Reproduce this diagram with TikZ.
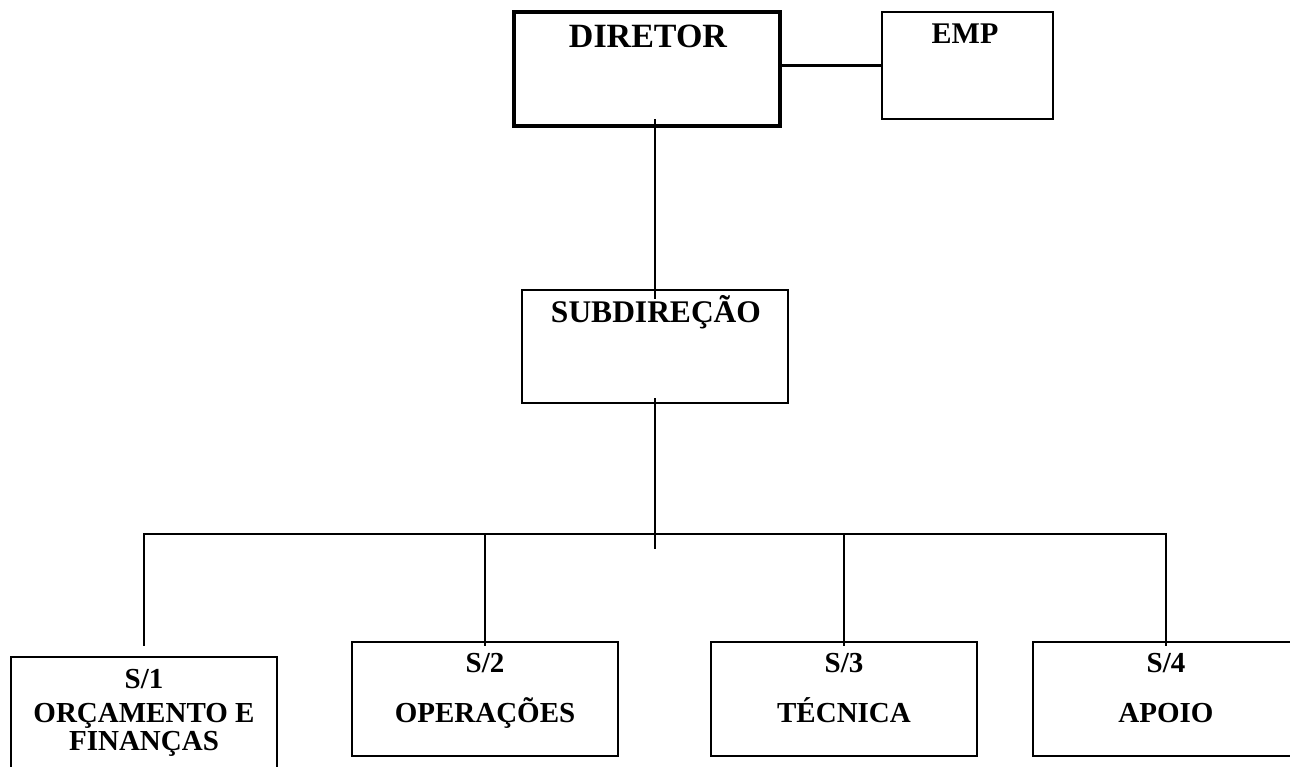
\documentclass[tikz,border=0pt]{standalone}
\usepackage{fontspec}
\setmainfont{Liberation Serif}
\begin{document}
\begin{tikzpicture}[x=1pt,y=-1pt,
        box/.style={draw, line width=2.2pt, minimum width=266pt, inner sep=0pt},
        txt/.style={anchor=base, inner sep=0pt, font=\bfseries\fontsize{29}{29}\selectfont},
        link/.style={line width=2.2pt}]
        % frame
            \useasboundingbox (0,0) rectangle (1290,767);
            \clip (0,0) rectangle (1290,767);
        % boxes
            \node[box, line width=4.2pt, minimum height=114pt] (dir) at (647,69) {};
            \node[box, minimum width=171pt, minimum height=107pt] (emp) at (967.5,65.5) {};
            \node[box, minimum height=113pt] (sub) at (655,346.5) {};
            \node[box, minimum height=130pt] (s1) at (144,722) {};
            \foreach \n/\x in {s2/485,s3/844,s4/1166}{
                \node[box, minimum height=114pt] (\n) at (\x,699) {};
            }
        % texts
            \node[txt, font=\bfseries\fontsize{34}{34}\selectfont] (dirtxt) at (648,48) {DIRETOR};
            \node[txt, font=\bfseries\fontsize{30}{30}\selectfont] (emptxt) at (965,44) {EMP};
            \node[txt, font=\bfseries\fontsize{31.5}{31.5}\selectfont] (subtxt) at (656,323) {SUBDIREÇÃO};
            \node[txt] (s1top) at (144,688) {S/1};
            \node[txt] (s1mid) at (144,722) {ORÇAMENTO E};
            \node[txt] (s1bot) at (144,750) {FINANÇAS};
            \foreach \n/\x/\k/\t in {s2/485/2/OPERAÇÕES,s3/844/3/TÉCNICA,s4/1166/4/APOIO}{
                \node[txt] (\n top) at (\x,672) {S/\k};
                \node[txt] (\n bot) at (\x,722) {\t};
            }
        % links
            \coordinate (bar) at (655,534);
            \coordinate (hub) at (655,549);
            \draw[link] (dir.east |- emp.west) -- (emp.west);
            \draw[link] ([xshift=8pt,yshift=9pt]dir.south) -- ([yshift=-10pt]sub.north);
            \draw[link] ([yshift=6pt]sub.south) -- (hub);
            \draw[link] ([yshift=10pt]s1.north) -- (s1.north |- bar) -- (s4.north |- bar) -- ([yshift=-5pt]s4.north);
            \foreach \n in {s2,s3}{
                \draw[link] (\n.north |- bar) -- ([yshift=-5pt]\n.north);
            }
\end{tikzpicture}
\end{document}
